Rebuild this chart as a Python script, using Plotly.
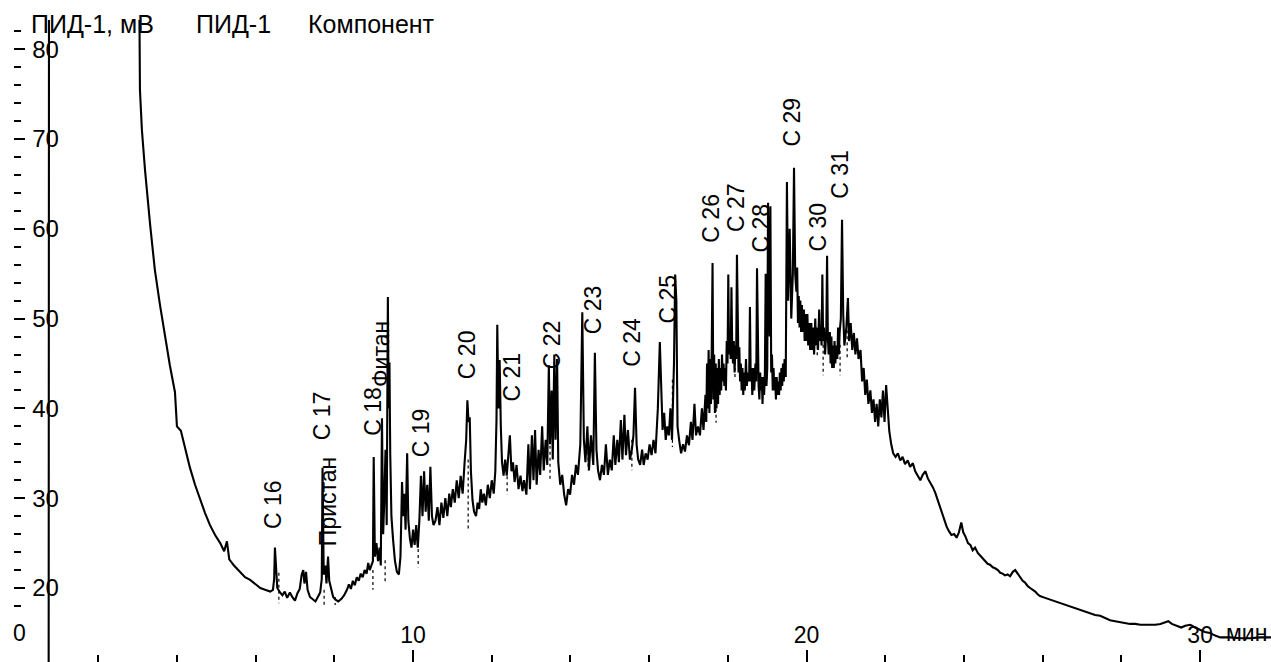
import plotly.graph_objects as go

# ---- chromatogram signal: (time, min ; signal, mV) ----
signal_points = [
    (0.74, 5.0), (0.75, 95.0), (3.03, 95.0), (3.04, 95.0), (3.06, 75.5), (3.11, 71.0),
    (3.19, 66.5), (3.32, 60.4), (3.44, 55.4), (3.57, 51.5), (3.70, 47.8), (3.82, 44.8),
    (3.95, 41.8), (4.00, 38.0), (4.10, 37.5), (4.21, 35.4), (4.33, 33.4), (4.46, 31.5),
    (4.59, 29.8), (4.71, 28.4), (4.84, 27.0), (4.97, 25.9), (5.10, 25.0), (5.20, 24.1),
    (5.27, 25.2), (5.33, 23.2), (5.45, 22.5), (5.58, 21.9), (5.73, 21.2), (5.86, 20.9),
    (6.00, 20.4), (6.12, 20.0), (6.24, 19.8), (6.37, 19.6),
    (6.44, 19.8), (6.47, 21.0), (6.49, 24.5), (6.52, 21.5), (6.55, 20.0), (6.62, 19.5),
    (6.68, 19.2), (6.74, 19.6), (6.80, 18.9), (6.87, 19.5), (6.93, 19.0), (7.00, 18.6),
    (7.06, 19.4), (7.12, 19.9), (7.17, 21.5), (7.21, 22.0), (7.24, 20.5), (7.28, 21.8),
    (7.32, 19.8), (7.38, 19.0), (7.45, 18.7), (7.52, 18.5), (7.58, 19.0), (7.64, 19.5),
    (7.68, 21.0), (7.70, 33.4), (7.73, 21.5), (7.77, 22.5), (7.80, 20.5), (7.84, 23.5),
    (7.87, 20.8), (7.92, 19.8), (7.97, 19.0), (8.03, 18.7), (8.10, 18.5), (8.18, 18.8),
    (8.25, 19.2), (8.32, 19.8), (8.37, 20.4), (8.42, 19.9), (8.47, 20.8), (8.52, 20.3),
    (8.57, 21.2), (8.62, 20.8), (8.67, 21.6), (8.72, 21.2), (8.77, 22.0), (8.82, 21.6),
    (8.86, 22.8), (8.90, 22.0), (8.94, 22.5),
    (8.98, 23.0), (9.00, 34.6), (9.03, 23.5), (9.07, 25.0), (9.11, 23.0), (9.15, 24.5),
    (9.18, 22.5), (9.21, 38.9), (9.24, 26.0), (9.27, 30.0), (9.30, 35.4), (9.33, 27.0),
    (9.36, 52.4), (9.38, 40.0), (9.40, 45.1), (9.42, 35.0), (9.45, 28.0), (9.49, 25.5),
    (9.54, 23.0), (9.59, 21.8), (9.64, 21.5), (9.68, 23.5), (9.72, 31.8), (9.75, 28.0),
    (9.78, 30.5), (9.81, 26.5), (9.85, 35.0), (9.88, 27.5), (9.92, 25.5), (9.96, 24.5),
    (10.00, 26.5), (10.04, 24.8), (10.08, 27.0), (10.12, 24.5), (10.16, 27.5), (10.20, 32.5),
    (10.24, 28.0), (10.28, 33.0), (10.32, 28.5), (10.36, 31.5), (10.40, 27.5), (10.44, 33.5),
    (10.48, 28.0), (10.52, 27.0), (10.57, 27.5),
    (10.62, 29.0), (10.67, 27.0), (10.72, 29.5), (10.77, 27.8), (10.82, 30.0), (10.87, 28.0),
    (10.92, 30.5), (10.96, 29.0), (11.01, 31.0), (11.06, 29.5), (11.11, 32.0), (11.16, 30.0),
    (11.21, 32.5), (11.26, 30.5), (11.31, 34.0), (11.35, 36.5), (11.38, 40.9), (11.41, 38.5),
    (11.44, 39.0), (11.47, 33.0), (11.51, 29.8), (11.55, 28.5), (11.60, 28.0), (11.64, 29.5),
    (11.68, 28.8), (11.72, 31.0), (11.76, 29.5), (11.80, 30.5), (11.85, 29.2), (11.90, 31.5),
    (11.95, 30.0), (12.00, 32.0), (12.05, 30.5), (12.09, 33.0), (12.12, 38.7), (12.14, 49.3),
    (12.17, 40.0), (12.20, 45.4), (12.23, 38.0), (12.26, 34.0), (12.30, 32.5), (12.34, 34.3),
    (12.38, 32.5), (12.42, 35.0), (12.46, 37.0), (12.50, 33.0), (12.54, 34.0), (12.58, 31.8),
    (12.63, 33.7), (12.68, 31.0), (12.73, 32.5), (12.78, 30.8), (12.82, 32.0),
    (12.88, 30.4), (12.93, 36.0), (12.97, 31.0), (13.02, 37.0), (13.06, 32.0), (13.10, 37.6),
    (13.14, 31.5), (13.19, 35.4), (13.23, 32.6), (13.28, 38.0), (13.32, 33.1), (13.37, 36.5),
    (13.41, 33.7), (13.45, 44.8), (13.48, 36.0), (13.52, 42.0), (13.55, 34.3), (13.59, 46.0),
    (13.62, 36.5), (13.66, 45.5), (13.69, 34.0), (13.74, 31.5), (13.79, 32.6), (13.84, 30.4),
    (13.89, 29.2), (13.94, 31.0), (13.99, 30.4), (14.04, 32.6), (14.09, 31.5), (14.14, 33.7),
    (14.19, 32.6), (14.25, 36.0), (14.30, 50.7), (14.34, 36.5), (14.38, 34.0), (14.43, 38.0),
    (14.47, 33.1), (14.52, 37.0), (14.58, 33.7), (14.62, 46.2), (14.66, 35.4), (14.70, 33.1),
    (14.75, 32.0), (14.80, 33.7), (14.85, 32.6), (14.90, 36.0), (14.95, 32.6), (15.00, 34.3),
    (15.05, 33.1), (15.10, 37.0), (15.14, 33.7), (15.19, 36.5), (15.23, 34.0), (15.28, 38.7),
    (15.32, 34.3), (15.37, 39.3), (15.41, 34.8), (15.46, 37.6), (15.51, 34.3), (15.56, 35.4),
    (15.60, 37.0), (15.64, 42.3), (15.68, 36.0), (15.72, 34.3), (15.77, 33.7), (15.82, 35.4),
    (15.86, 33.7), (15.91, 35.0), (15.96, 34.3), (16.01, 36.0), (16.06, 34.8), (16.11, 36.5),
    (16.16, 35.0), (16.22, 40.0), (16.27, 47.4), (16.31, 42.0), (16.34, 37.6), (16.38, 39.5),
    (16.42, 36.5), (16.46, 38.0), (16.50, 37.0), (16.54, 40.0), (16.58, 36.5), (16.63, 45.0),
    (16.66, 54.9), (16.69, 52.0), (16.72, 38.0), (16.76, 36.5), (16.81, 35.0), (16.86, 36.0),
    (16.91, 35.2), (16.96, 37.0), (17.01, 35.9), (17.06, 38.5), (17.10, 36.5), (17.15, 40.5),
    (17.19, 37.0), (17.24, 38.0), (17.29, 37.0), (17.34, 40.0), (17.38, 37.6), (17.43, 41.5),
    (17.45, 38.5), (17.47, 45.0), (17.49, 40.0), (17.51, 46.5), (17.53, 39.5), (17.55, 45.5),
    (17.57, 40.5), (17.59, 47.0), (17.61, 56.2), (17.63, 41.0), (17.65, 46.0), (17.67, 39.5),
    (17.69, 45.0), (17.71, 40.0), (17.73, 44.5), (17.75, 40.5), (17.77, 45.5), (17.79, 41.5),
    (17.81, 44.5), (17.83, 42.0), (17.85, 46.0), (17.87, 43.0), (17.89, 45.0), (17.91, 42.5),
    (17.93, 44.5), (17.95, 42.0), (17.97, 47.5), (17.99, 45.0), (18.01, 54.9), (18.03, 46.0),
    (18.05, 48.0), (18.07, 45.5), (18.09, 53.5), (18.11, 46.5), (18.13, 45.0), (18.15, 47.5),
    (18.17, 44.0), (18.19, 47.0), (18.21, 45.5), (18.23, 57.1), (18.25, 45.0), (18.27, 44.0),
    (18.29, 46.8), (18.31, 43.0), (18.33, 45.0), (18.35, 42.0), (18.37, 44.5), (18.39, 41.5),
    (18.41, 44.0), (18.43, 42.0), (18.46, 45.5), (18.48, 42.5), (18.51, 44.0), (18.54, 43.0),
    (18.56, 51.3), (18.58, 43.0), (18.60, 44.5), (18.62, 41.5), (18.65, 44.5), (18.67, 42.0),
    (18.70, 45.0), (18.72, 43.0), (18.74, 55.6), (18.76, 44.0), (18.78, 42.5), (18.80, 41.0),
    (18.82, 44.0), (18.84, 42.0), (18.86, 43.5), (18.88, 40.5), (18.90, 43.5), (18.92, 41.5),
    (18.94, 44.0), (18.96, 55.0), (18.98, 42.5), (19.00, 44.5), (19.02, 62.9), (19.04, 55.0),
    (19.06, 48.0), (19.08, 62.5), (19.10, 44.0), (19.12, 46.0), (19.14, 42.0), (19.16, 44.5),
    (19.18, 42.0), (19.20, 43.5), (19.22, 41.0), (19.24, 43.5), (19.26, 41.5), (19.28, 43.0),
    (19.30, 41.5), (19.32, 44.0), (19.34, 42.0), (19.36, 44.5), (19.38, 42.5), (19.40, 45.0),
    (19.42, 43.0), (19.44, 45.5), (19.47, 43.5), (19.50, 65.2), (19.53, 52.0), (19.57, 60.0),
    (19.61, 50.0), (19.65, 55.0), (19.68, 66.8), (19.71, 55.0), (19.74, 53.0), (19.76, 55.7),
    (19.78, 49.5), (19.80, 52.5), (19.82, 49.0), (19.84, 52.0), (19.86, 48.5), (19.88, 51.5),
    (19.90, 48.5), (19.93, 51.0), (19.95, 47.5), (19.97, 50.5), (19.99, 47.5), (20.02, 50.5),
    (20.04, 47.0), (20.07, 49.5), (20.09, 46.5), (20.12, 49.5), (20.14, 46.5), (20.17, 49.0),
    (20.19, 46.0), (20.22, 50.0), (20.24, 47.0), (20.27, 49.0), (20.29, 46.5), (20.32, 51.0),
    (20.34, 47.5), (20.36, 49.0), (20.38, 47.0), (20.40, 54.9), (20.42, 47.5), (20.44, 49.0),
    (20.47, 46.0), (20.50, 48.5), (20.52, 57.0), (20.54, 48.0), (20.56, 46.0), (20.59, 48.5),
    (20.61, 45.0), (20.63, 48.0), (20.65, 44.5), (20.67, 47.0), (20.69, 44.5), (20.71, 47.5),
    (20.73, 45.0), (20.75, 47.0), (20.78, 45.5), (20.80, 49.0), (20.82, 46.0), (20.84, 48.5),
    (20.87, 50.0), (20.90, 61.0), (20.93, 50.5), (20.96, 47.0),
    (21.01, 49.0), (21.05, 52.3), (21.08, 47.5), (21.12, 49.5), (21.16, 46.5), (21.20, 48.4),
    (21.24, 46.0), (21.28, 47.8), (21.32, 45.5), (21.37, 46.5), (21.41, 43.0), (21.45, 44.5),
    (21.49, 41.5), (21.53, 43.2), (21.57, 40.5), (21.62, 42.0), (21.66, 39.5), (21.70, 41.0),
    (21.74, 38.5), (21.78, 40.5), (21.82, 38.0), (21.86, 41.0), (21.90, 39.0), (21.94, 42.0),
    (21.98, 38.5), (22.02, 42.6), (22.06, 40.0), (22.10, 37.5), (22.15, 36.0), (22.20, 35.0),
    (22.26, 34.6), (22.32, 35.0), (22.38, 34.2), (22.44, 34.6), (22.50, 33.8), (22.57, 34.2),
    (22.63, 33.5), (22.70, 33.9), (22.76, 33.0), (22.83, 32.4), (22.89, 32.0), (22.95, 32.6),
    (23.02, 33.0), (23.08, 32.2), (23.14, 31.8), (23.21, 31.2), (23.27, 30.6), (23.33, 29.8),
    (23.39, 29.0), (23.45, 28.2), (23.50, 27.4), (23.56, 26.8), (23.62, 26.3), (23.68, 25.9),
    (23.75, 26.0), (23.81, 25.6), (23.87, 26.2), (23.93, 27.3), (23.98, 26.2), (24.04, 25.7),
    (24.10, 25.0), (24.16, 24.8), (24.22, 24.2), (24.28, 24.5), (24.35, 23.9), (24.41, 23.6),
    (24.48, 23.2), (24.54, 23.0), (24.60, 22.7), (24.66, 22.6), (24.73, 22.3), (24.79, 22.2),
    (24.86, 22.0), (24.92, 21.7), (24.98, 21.6), (25.04, 21.4), (25.11, 21.5), (25.17, 21.3),
    (25.24, 21.8), (25.30, 22.0), (25.36, 21.6), (25.42, 21.2), (25.49, 20.8), (25.55, 20.6),
    (25.62, 20.2), (25.68, 20.0), (25.75, 19.8), (25.81, 19.6), (25.87, 19.3), (25.93, 19.1),
    (26.06, 18.9), (26.19, 18.7), (26.32, 18.5), (26.44, 18.4), (26.57, 18.2), (26.70, 18.0),
    (26.82, 17.8), (26.95, 17.6), (27.08, 17.4), (27.21, 17.2), (27.33, 17.0), (27.46, 16.9),
    (27.59, 16.6), (27.71, 16.4), (27.84, 16.3), (27.97, 16.2), (28.10, 16.1), (28.22, 16.0),
    (28.35, 16.0), (28.48, 15.9), (28.60, 15.9), (28.73, 15.9), (28.86, 15.9), (28.99, 16.0),
    (29.10, 16.2), (29.19, 16.3), (29.28, 16.0), (29.40, 15.8), (29.52, 15.6), (29.62, 15.8),
    (29.75, 15.9), (29.87, 15.6), (30.00, 15.3), (30.12, 15.1), (30.25, 15.0), (30.38, 14.7),
    (30.51, 14.5), (30.76, 14.5), (31.01, 14.4), (31.27, 14.4), (31.52, 14.5), (31.80, 14.5),
]
time_min = [p[0] for p in signal_points]
signal_mv = [p[1] for p in signal_points]

# ---- dotted drop lines under integrated peaks ----
drop_time = [6.59, 7.74, 8.02, 8.98, 9.29, 10.13, 11.40, 12.39, 13.48, 14.45, 15.56,
             16.59, 17.70, 18.18, 18.99, 20.27, 20.42, 20.85, 21.03]
drop_top = [21.7, 19.8, 19.0, 22.0, 23.1, 25.0, 34.3, 33.1, 36.5, 36.5, 36.5,
            43.2, 41.3, 46.5, 47.6, 47.6, 47.1, 47.1, 48.7]
drop_bottom = [18.3, 18.1, 18.1, 19.8, 20.6, 22.3, 26.5, 30.4, 32.0, 33.1, 33.1,
               35.7, 38.4, 43.2, 43.2, 45.7, 43.7, 43.7, 45.4]

# ---- peak labels ----
peak_names = ["C 16", "Пристан", "C 17", "C 18", "Фитан", "C 19", "C 20", "C 21", "C 22",
              "C 23", "C 24", "C 25", "C 26", "C 27", "C 28", "C 29", "C 30", "C 31"]
peak_label_time = [6.44, 7.84, 7.69, 8.96, 9.19, 10.20, 11.37, 12.49, 13.53,
                   14.57, 15.57, 16.48, 17.57, 18.21, 18.84, 19.63, 20.29, 20.83]
peak_label_mv = [26.5, 24.5, 36.3, 36.8, 42.3, 34.5, 43.2, 40.6, 44.3,
                 48.2, 44.5, 49.3, 58.4, 59.5, 57.3, 69.0, 57.3, 63.2]

# ---- header texts / axis texts ----
header_texts = ["ПИД-1, мВ", "ПИД-1", "Компонент"]
header_time = [0.27, 4.46, 7.31]
x_unit = "мин"
x_zero_label = "0"

FONT = "Arial, 'Liberation Sans', sans-serif"

fig = go.Figure()

dx, dy = [], []
for t, a, b in zip(drop_time, drop_top, drop_bottom):
    dx += [t, t, None]
    dy += [a, b, None]
fig.add_trace(go.Scatter(x=dx, y=dy, mode="lines",
                         line=dict(color="black", width=1.2, dash="dot"),
                         hoverinfo="skip", showlegend=False))

fig.add_trace(go.Scatter(x=time_min, y=signal_mv, mode="lines",
                         line=dict(color="black", width=2.1),
                         showlegend=False))

for name, t, v in zip(peak_names, peak_label_time, peak_label_mv):
    fig.add_annotation(x=t, y=v, xref="x", yref="y", text=name, showarrow=False,
                       textangle=-90, xanchor="center", yanchor="bottom",
                       font=dict(family=FONT, size=23, color="black"), borderpad=0)

for txt, t in zip(header_texts, header_time):
    fig.add_annotation(x=t, y=1.0, xref="x", yref="paper", text=txt, showarrow=False,
                       xanchor="left", yanchor="middle", yshift=-4,
                       font=dict(family=FONT, size=25, color="black"), borderpad=0)

fig.add_annotation(x=30.64, y=15.0, xref="x", yref="y", text=x_unit, showarrow=False,
                   xanchor="left", yanchor="middle",
                   font=dict(family=FONT, size=23, color="black"), borderpad=0)
fig.add_annotation(x=0, y=15.0, xref="x", yref="y", text=x_zero_label, showarrow=False,
                   xanchor="center", yanchor="middle",
                   font=dict(family=FONT, size=23, color="black"), borderpad=0)

fig.update_xaxes(range=[-0.14, 31.8], tick0=0, dtick=10, ticks="inside", ticklen=12,
                 tickwidth=2, tickcolor="black", ticklabelposition="inside",
                 ticklabelstandoff=4,
                 minor=dict(dtick=2, tick0=0, ticks="inside", ticklen=7, tickwidth=2,
                            tickcolor="black"),
                 showgrid=False, zeroline=False, showline=False,
                 tickfont=dict(family=FONT, size=23, color="black"))
fig.update_yaxes(range=[11.76, 83.25], tick0=0, dtick=10, ticks="inside", ticklen=11,
                 tickwidth=2, tickcolor="black", ticklabelposition="inside",
                 ticklabelstandoff=9,
                 minor=dict(dtick=2, tick0=0, ticks="inside", ticklen=7, tickwidth=2,
                            tickcolor="black"),
                 showgrid=False, zeroline=False, showline=False,
                 tickfont=dict(family=FONT, size=24, color="black"))

fig.update_layout(width=1271, height=662, margin=dict(l=14, r=0, t=20, b=0),
                  paper_bgcolor="white", plot_bgcolor="white", showlegend=False)

fig.write_html("out.html", config={"displayModeBar": False},
               post_script="document.body.style.margin='0px';")
